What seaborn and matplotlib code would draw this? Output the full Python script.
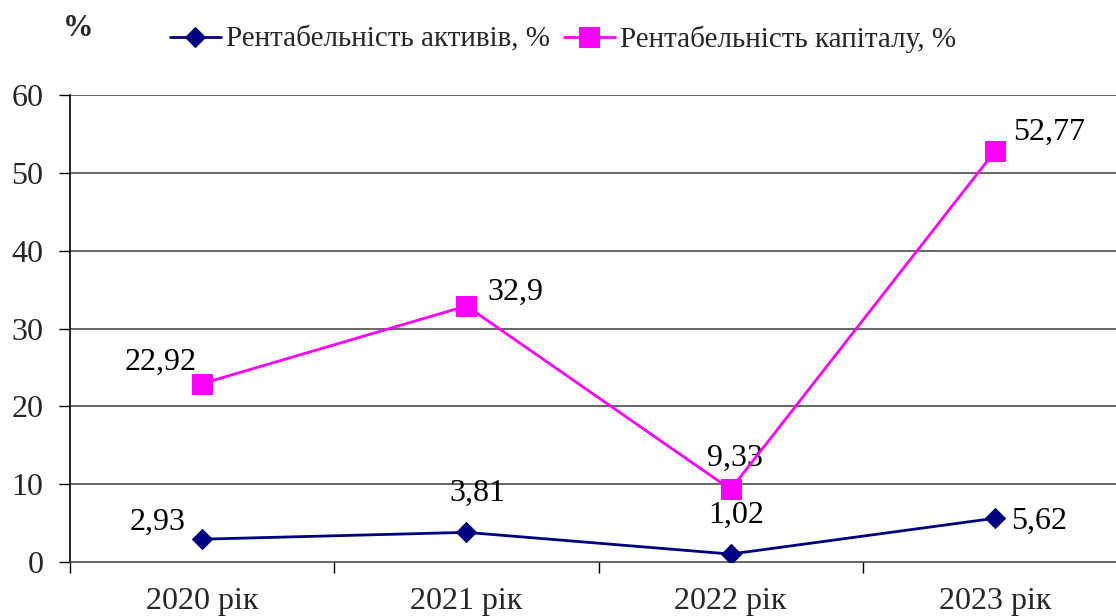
import matplotlib
matplotlib.use("Agg")
import matplotlib.pyplot as plt
from matplotlib.ticker import FixedLocator
import seaborn as sns
import pandas as pd

years = ["2020 рік", "2021 рік", "2022 рік", "2023 рік"]
roa = [2.93, 3.81, 1.02, 5.62]
roe = [22.92, 32.9, 9.33, 52.77]
roa_name = "Рентабельність активів, %"
roe_name = "Рентабельність капіталу, %"
y_ticks = [0, 10, 20, 30, 40, 50, 60]

# label offsets in points (dx, dy) relative to each marker
roa_offsets = [(-32, 12), (8, 28), (4, 28), (32, -2)]
roe_offsets = [(-30, 15), (35, 10), (3, 22), (39, 14)]

sns.set_theme(style="white")
plt.rcParams["font.family"] = ["Liberation Serif", "DejaVu Serif"]
FS = 23

fig = plt.figure(figsize=(11.16, 6.16), dpi=100)
ax = fig.add_axes([70 / 1116, 1 - 562 / 616, (1127 - 70) / 1116, (562 - 95) / 616])

x = list(range(len(years)))
df = pd.DataFrame({"x": x, "roa": roa, "roe": roe})

sns.lineplot(data=df, x="x", y="roa", ax=ax, color="#000080", lw=2,
             marker="D", markersize=10, markeredgecolor="#000080",
             label=roa_name, zorder=4)
sns.lineplot(data=df, x="x", y="roe", ax=ax, color="#FF00FF", lw=2,
             marker="s", markersize=14, markeredgecolor="#FF00FF",
             label=roe_name, zorder=4)

for xi, v, (dx, dy) in zip(x, roa, roa_offsets):
    ax.annotate(f"{v:g}".replace(".", ","), (xi, v), xytext=(dx, dy),
                textcoords="offset points", ha="center", va="center",
                fontsize=FS, color="black")
for xi, v, (dx, dy) in zip(x, roe, roe_offsets):
    ax.annotate(f"{v:g}".replace(".", ","), (xi, v), xytext=(dx, dy),
                textcoords="offset points", ha="center", va="center",
                fontsize=FS, color="black")

ax.set_xlim(-0.5, 3.5)
ax.set_ylim(0, 60)
ax.set_yticks(y_ticks)
ax.set_yticklabels([str(t) for t in y_ticks], fontsize=FS)
ax.set_xticks(x)
ax.set_xticklabels(years, fontsize=FS)
ax.xaxis.set_minor_locator(FixedLocator([-0.5, 0.5, 1.5, 2.5, 3.5]))
ax.tick_params(axis="x", which="major", length=0, pad=18)
ax.tick_params(axis="x", which="minor", length=8, width=1, color="black",
               direction="out", bottom=True)
ax.tick_params(axis="y", which="major", length=8, width=1, color="black",
               direction="out", left=True, pad=11)
ax.set_xlabel("")
ax.set_ylabel("")

ax.grid(False)
for t in y_ticks[1:]:
    ax.axhline(t, color="#4d4d4d", lw=1.2, zorder=1)

for s in ["top", "right"]:
    ax.spines[s].set_visible(False)
ax.spines["left"].set_color("black")
ax.spines["left"].set_linewidth(1.2)
ax.spines["bottom"].set_color("#4d4d4d")
ax.spines["bottom"].set_linewidth(1.2)

ax.legend(loc="center", bbox_to_anchor=(563 / 1116, 1 - 39 / 616),
          bbox_transform=fig.transFigure, ncol=2, frameon=False,
          fontsize=21, handlelength=1.78, handletextpad=0.17,
          columnspacing=0.45, borderpad=0)

fig.text(78 / 1116, 1 - 28 / 616, "%", fontsize=22, fontweight="bold",
         ha="center", va="center")

fig.savefig("out.png", dpi=100)
